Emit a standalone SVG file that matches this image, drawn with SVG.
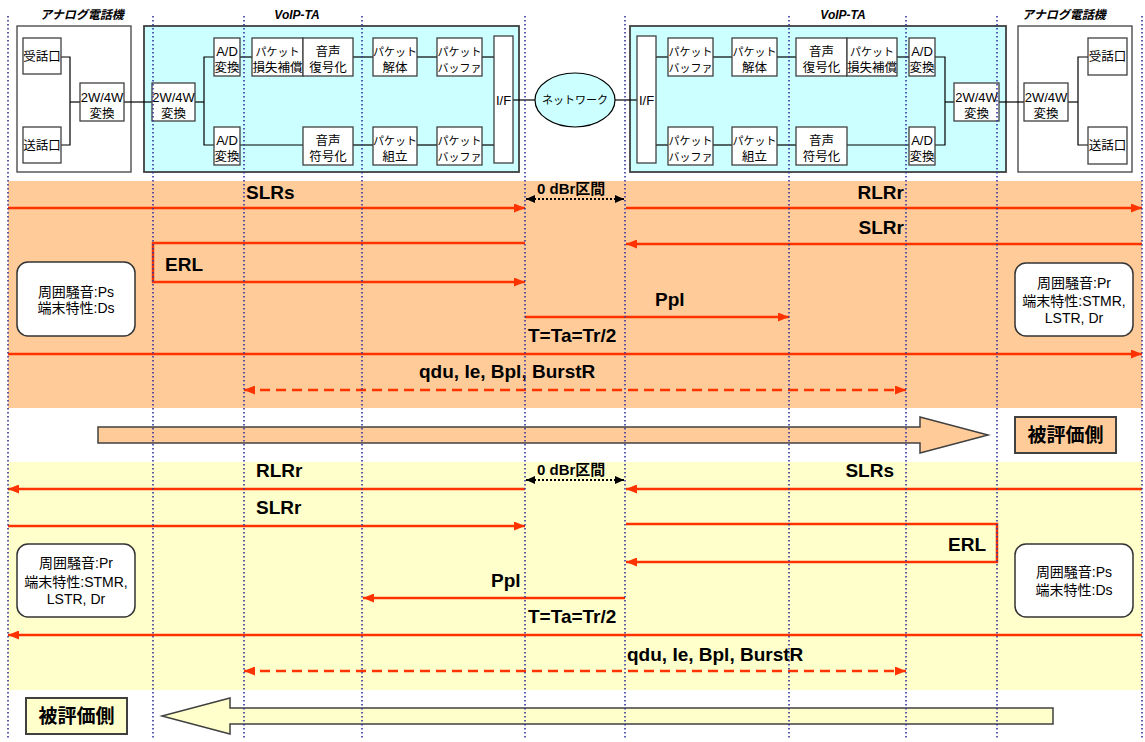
<svg xmlns="http://www.w3.org/2000/svg" width="1145" height="742" viewBox="0 0 1145 742">
<style>
.box{fill:#fff;stroke:#404040;stroke-width:1.3}
.ta{fill:#CCFFFF;stroke:#404040;stroke-width:1.8}
.ph{fill:#fff;stroke:#404040;stroke-width:1.3}
.wire{stroke:#000;stroke-width:1.2;fill:none}
.t{font-family:"Liberation Sans","Noto Sans CJK JP",sans-serif;font-size:12.5px;fill:#000;text-anchor:middle}
.lt{font-size:13px}
.kt{font-size:11px}
.ttl{font-family:"Liberation Sans","Noto Sans CJK JP",sans-serif;font-size:12px;font-weight:bold;font-style:italic;text-anchor:middle}
.lab{font-family:"Liberation Sans","Noto Sans CJK JP",sans-serif;font-size:19px;font-weight:bold;fill:#000}
.dbr{font-family:"Liberation Sans","Noto Sans CJK JP",sans-serif;font-size:15px;font-weight:bold;fill:#000}
.bx{font-family:"Liberation Sans","Noto Sans CJK JP",sans-serif;font-size:14px;fill:#000;text-anchor:middle}
.red{stroke:#FF3300;stroke-width:2.5;fill:none}
.dash{stroke-dasharray:10 6}
.blk{stroke:#000;stroke-width:2;stroke-dasharray:2 2;fill:none}
.rbox{fill:#fff;stroke:#333;stroke-width:1.5}
.guide{stroke:#3333A0;stroke-width:1.6;stroke-dasharray:1.6 2.4;fill:none}
.big{font-family:"Noto Sans CJK JP",sans-serif;font-size:19px;font-weight:bold;text-anchor:middle;fill:#000}
</style>
<defs>
<marker id="ah" markerUnits="userSpaceOnUse" markerWidth="11" markerHeight="9" refX="11" refY="4.5" orient="auto-start-reverse"><path d="M0,0 L11,4.5 L0,9 z" fill="#FF3300"/></marker>
<marker id="bh" markerUnits="userSpaceOnUse" markerWidth="9" markerHeight="8" refX="9" refY="4" orient="auto-start-reverse"><path d="M0,0 L9,4 L0,8 z" fill="#000"/></marker>
</defs>

<!-- bands -->
<rect x="8" y="181" width="1134" height="227" fill="#FFCC99"/>
<rect x="8" y="462" width="1134" height="228" fill="#FFFFCC"/>

<!-- top: containers -->
<g id="phone-left">
<rect class="ph" x="17" y="26" width="114" height="146"/>
<text class="ttl" x="82" y="19">アナログ電話機</text>
</g>
<g id="voip-left">
<rect class="ta" x="144" y="26" width="375" height="146"/>
<text class="ttl" x="297" y="19">VoIP-TA</text>
</g>
<g id="voip-right">
<rect class="ta" x="630" y="26" width="376" height="146"/>
<text class="ttl" x="843" y="19">VoIP-TA</text>
</g>
<g id="phone-right">
<rect class="ph" x="1018" y="26" width="114" height="146"/>
<text class="ttl" x="1064" y="19">アナログ電話機</text>
</g>

<!-- connectors (wires) -->
<g id="wires">
<polyline class="wire" points="61,57 70,57 70,145 61,145"/>
<line class="wire" x1="70" y1="102" x2="80" y2="102"/>
<line class="wire" x1="124" y1="102" x2="152" y2="102"/>
<line class="wire" x1="195" y1="102" x2="204" y2="102"/>
<polyline class="wire" points="214,57 204,57 204,145 214,145"/>
<line class="wire" x1="240" y1="57" x2="252" y2="57"/>
<line class="wire" x1="353" y1="57" x2="373" y2="57"/>
<line class="wire" x1="417" y1="57" x2="437" y2="57"/>
<line class="wire" x1="482" y1="57" x2="494" y2="57"/>
<line class="wire" x1="240" y1="145" x2="303" y2="145"/>
<line class="wire" x1="353" y1="145" x2="373" y2="145"/>
<line class="wire" x1="417" y1="145" x2="437" y2="145"/>
<line class="wire" x1="482" y1="145" x2="494" y2="145"/>
<line class="wire" x1="513" y1="100" x2="535" y2="100"/>
<line class="wire" x1="615" y1="100" x2="637" y2="100"/>
<line class="wire" x1="656" y1="57" x2="668" y2="57"/>
<line class="wire" x1="713" y1="57" x2="732" y2="57"/>
<line class="wire" x1="777" y1="57" x2="796" y2="57"/>
<line class="wire" x1="897" y1="57" x2="909" y2="57"/>
<line class="wire" x1="656" y1="145" x2="668" y2="145"/>
<line class="wire" x1="713" y1="145" x2="732" y2="145"/>
<line class="wire" x1="777" y1="145" x2="796" y2="145"/>
<line class="wire" x1="847" y1="145" x2="909" y2="145"/>
<polyline class="wire" points="935,57 945,57 945,145 935,145"/>
<line class="wire" x1="945" y1="102" x2="954" y2="102"/>
<line class="wire" x1="999" y1="102" x2="1024" y2="102"/>
<line class="wire" x1="1068" y1="102" x2="1078" y2="102"/>
<polyline class="wire" points="1088,57 1078,57 1078,145 1088,145"/>
</g>

<!-- left phone parts -->
<g id="rx-left"><rect class="box" x="23" y="38" width="38" height="36"/><text class="t" x="42" y="60.5">受話口</text></g>
<g id="tx-left"><rect class="box" x="23" y="127" width="38" height="36"/><text class="t" x="42" y="149.5">送話口</text></g>
<g id="hyb-phone-left"><rect class="box" x="80" y="83" width="44" height="38"/><text class="t lt" x="102" y="101.5">2W/4W</text><text class="t" x="102" y="117.5">変換</text></g>

<!-- left VoIP-TA parts -->
<g id="hyb-ta-left"><rect class="box" x="152" y="83" width="43" height="38"/><text class="t lt" x="173.5" y="101.5">2W/4W</text><text class="t" x="173.5" y="117.5">変換</text></g>
<g id="ad-top-left"><rect class="box" x="214" y="38" width="26" height="38"/><text class="t lt" x="227" y="56">A/D</text><text class="t" x="227" y="72">変換</text></g>
<g id="ad-bot-left"><rect class="box" x="214" y="127" width="26" height="38"/><text class="t lt" x="227" y="145">A/D</text><text class="t" x="227" y="161">変換</text></g>
<g id="plc-left"><rect class="box" x="252" y="38" width="51" height="38"/><text class="t kt" x="277.5" y="55.5">パケット</text><text class="t" x="277.5" y="72">損失補償</text></g>
<g id="dec-left"><rect class="box" x="303" y="38" width="50" height="38"/><text class="t" x="328" y="55.5">音声</text><text class="t" x="328" y="72">復号化</text></g>
<g id="depack-left"><rect class="box" x="373" y="38" width="44" height="38"/><text class="t kt" x="395" y="55.5">パケット</text><text class="t" x="395" y="72">解体</text></g>
<g id="buf-top-left"><rect class="box" x="437" y="38" width="45" height="38"/><text class="t kt" x="459.5" y="55.5">パケット</text><text class="t kt" x="459.5" y="72">バッファ</text></g>
<g id="enc-left"><rect class="box" x="303" y="127" width="50" height="38"/><text class="t" x="328" y="144.5">音声</text><text class="t" x="328" y="161">符号化</text></g>
<g id="pack-left"><rect class="box" x="373" y="127" width="44" height="38"/><text class="t kt" x="395" y="144.5">パケット</text><text class="t" x="395" y="161">組立</text></g>
<g id="buf-bot-left"><rect class="box" x="437" y="127" width="45" height="38"/><text class="t kt" x="459.5" y="144.5">パケット</text><text class="t kt" x="459.5" y="161">バッファ</text></g>
<g id="if-left"><rect class="box" x="494" y="36" width="19" height="127"/><text class="t lt" x="503.5" y="104.5">I/F</text></g>

<g id="network"><ellipse cx="575" cy="100" rx="40" ry="27" fill="#CCFFFF" stroke="#000" stroke-width="1.2"/><text class="t kt" x="575" y="104">ネットワーク</text></g>

<!-- right VoIP-TA parts -->
<g id="if-right"><rect class="box" x="637" y="36" width="19" height="127"/><text class="t lt" x="646.5" y="104.5">I/F</text></g>
<g id="buf-top-right"><rect class="box" x="668" y="38" width="45" height="38"/><text class="t kt" x="690.5" y="55.5">パケット</text><text class="t kt" x="690.5" y="72">バッファ</text></g>
<g id="depack-right"><rect class="box" x="732" y="38" width="45" height="38"/><text class="t kt" x="754.5" y="55.5">パケット</text><text class="t" x="754.5" y="72">解体</text></g>
<g id="dec-right"><rect class="box" x="796" y="38" width="51" height="38"/><text class="t" x="821.5" y="55.5">音声</text><text class="t" x="821.5" y="72">復号化</text></g>
<g id="plc-right"><rect class="box" x="847" y="38" width="50" height="38"/><text class="t kt" x="872" y="55.5">パケット</text><text class="t" x="872" y="72">損失補償</text></g>
<g id="ad-top-right"><rect class="box" x="909" y="38" width="26" height="38"/><text class="t lt" x="922" y="56">A/D</text><text class="t" x="922" y="72">変換</text></g>
<g id="buf-bot-right"><rect class="box" x="668" y="127" width="45" height="38"/><text class="t kt" x="690.5" y="144.5">パケット</text><text class="t kt" x="690.5" y="161">バッファ</text></g>
<g id="pack-right"><rect class="box" x="732" y="127" width="45" height="38"/><text class="t kt" x="754.5" y="144.5">パケット</text><text class="t" x="754.5" y="161">組立</text></g>
<g id="enc-right"><rect class="box" x="796" y="127" width="51" height="38"/><text class="t" x="821.5" y="144.5">音声</text><text class="t" x="821.5" y="161">符号化</text></g>
<g id="ad-bot-right"><rect class="box" x="909" y="127" width="26" height="38"/><text class="t lt" x="922" y="145">A/D</text><text class="t" x="922" y="161">変換</text></g>
<g id="hyb-ta-right"><rect class="box" x="954" y="83" width="45" height="38"/><text class="t lt" x="976.5" y="101.5">2W/4W</text><text class="t" x="976.5" y="117.5">変換</text></g>

<!-- right phone parts -->
<g id="hyb-phone-right"><rect class="box" x="1024" y="83" width="44" height="38"/><text class="t lt" x="1046" y="101.5">2W/4W</text><text class="t" x="1046" y="117.5">変換</text></g>
<g id="rx-right"><rect class="box" x="1088" y="38" width="39" height="37"/><text class="t" x="1107.5" y="61">受話口</text></g>
<g id="tx-right"><rect class="box" x="1088" y="127" width="39" height="37"/><text class="t" x="1107.5" y="150">送話口</text></g>

<!-- info boxes -->
<g id="info-1l"><rect class="rbox" x="17" y="262" width="118" height="74" rx="11"/><text class="bx" x="76" y="297">周囲騒音:Ps</text><text class="bx" x="76" y="313">端末特性:Ds</text></g>
<g id="info-1r"><rect class="rbox" x="1015" y="263" width="118" height="73" rx="11"/><text class="bx" x="1074" y="288">周囲騒音:Pr</text><text class="bx" x="1074" y="306">端末特性:STMR,</text><text class="bx" x="1074" y="323">LSTR, Dr</text></g>
<g id="info-2l"><rect class="rbox" x="17" y="544" width="118" height="73" rx="11"/><text class="bx" x="76" y="568">周囲騒音:Pr</text><text class="bx" x="76" y="587">端末特性:STMR,</text><text class="bx" x="76" y="604">LSTR, Dr</text></g>
<g id="info-2r"><rect class="rbox" x="1015" y="544" width="118" height="73" rx="11"/><text class="bx" x="1074" y="577">周囲騒音:Ps</text><text class="bx" x="1074" y="595">端末特性:Ds</text></g>

<!-- big arrows and side labels -->
<g id="dir-1"><polygon points="98,427 920,427 920,417 988,435 920,453 920,443 98,443" fill="#FFCC99" stroke="#404040" stroke-width="1.5"/></g>
<g id="side-1"><rect x="1015" y="417" width="101" height="36" fill="#FFCC99" stroke="#404040" stroke-width="2"/><text class="big" x="1065.5" y="442">被評価側</text></g>
<g id="dir-2"><polygon points="1053,708 230,708 230,698 162,716 230,734 230,724 1053,724" fill="#FFFFCC" stroke="#404040" stroke-width="1.5"/></g>
<g id="side-2"><rect x="26" y="698" width="101" height="36" fill="#FFFFCC" stroke="#404040" stroke-width="2"/><text class="big" x="76.5" y="723">被評価側</text></g>

<!-- measurement connectors -->
<g id="connectors">
<line class="red" x1="8" y1="208" x2="525" y2="208" marker-end="url(#ah)"/>
<line class="red" x1="626" y1="208" x2="1142" y2="208" marker-end="url(#ah)"/>
<line class="red" x1="1142" y1="244" x2="626" y2="244" marker-end="url(#ah)"/>
<polyline class="red" points="525,243 153,243 153,282 525,282" marker-end="url(#ah)"/>
<line class="red" x1="525" y1="317" x2="789" y2="317" marker-end="url(#ah)"/>
<line class="red" x1="8" y1="354" x2="1142" y2="354" marker-end="url(#ah)"/>
<line class="red dash" x1="244" y1="390" x2="906" y2="390" marker-start="url(#ah)" marker-end="url(#ah)"/>
<line class="blk" x1="526" y1="199" x2="624" y2="199" marker-start="url(#bh)" marker-end="url(#bh)"/>

<line class="red" x1="525" y1="489" x2="8" y2="489" marker-end="url(#ah)"/>
<line class="red" x1="1142" y1="489" x2="626" y2="489" marker-end="url(#ah)"/>
<line class="red" x1="8" y1="526" x2="525" y2="526" marker-end="url(#ah)"/>
<polyline class="red" points="626,524 997,524 997,562 626,562" marker-end="url(#ah)"/>
<line class="red" x1="625" y1="598" x2="363" y2="598" marker-end="url(#ah)"/>
<line class="red" x1="1142" y1="635" x2="8" y2="635" marker-end="url(#ah)"/>
<line class="red dash" x1="244" y1="671" x2="906" y2="671" marker-start="url(#ah)" marker-end="url(#ah)"/>
<line class="blk" x1="526" y1="480" x2="624" y2="480" marker-start="url(#bh)" marker-end="url(#bh)"/>
</g>

<!-- connector labels -->
<g id="labels">
<text class="lab" x="246" y="199">SLRs</text>
<text class="dbr" x="537" y="194">0 dBr区間</text>
<text class="lab" x="904" y="199" text-anchor="end">RLRr</text>
<text class="lab" x="904" y="234" text-anchor="end">SLRr</text>
<text class="lab" x="165" y="271">ERL</text>
<text class="lab" x="655" y="306">Ppl</text>
<text class="lab" x="528" y="342">T=Ta=Tr/2</text>
<text class="lab" x="419" y="378">qdu, Ie, Bpl, BurstR</text>

<text class="lab" x="256" y="477">RLRr</text>
<text class="dbr" x="537" y="475">0 dBr区間</text>
<text class="lab" x="894" y="477" text-anchor="end">SLRs</text>
<text class="lab" x="256" y="514">SLRr</text>
<text class="lab" x="986" y="551" text-anchor="end">ERL</text>
<text class="lab" x="491" y="587">Ppl</text>
<text class="lab" x="528" y="623">T=Ta=Tr/2</text>
<text class="lab" x="627" y="661">qdu, Ie, Bpl, BurstR</text>
</g>

<!-- dotted guides -->
<g id="guides">
<line class="guide" x1="8" y1="16" x2="8" y2="740"/>
<line class="guide" x1="153" y1="16" x2="153" y2="740"/>
<line class="guide" x1="244" y1="16" x2="244" y2="740"/>
<line class="guide" x1="362" y1="16" x2="362" y2="740"/>
<line class="guide" x1="525" y1="16" x2="525" y2="740"/>
<line class="guide" x1="625" y1="16" x2="625" y2="740"/>
<line class="guide" x1="789" y1="16" x2="789" y2="740"/>
<line class="guide" x1="906" y1="16" x2="906" y2="740"/>
<line class="guide" x1="997" y1="16" x2="997" y2="740"/>
<line class="guide" x1="1142" y1="16" x2="1142" y2="740"/>
</g>
</svg>
